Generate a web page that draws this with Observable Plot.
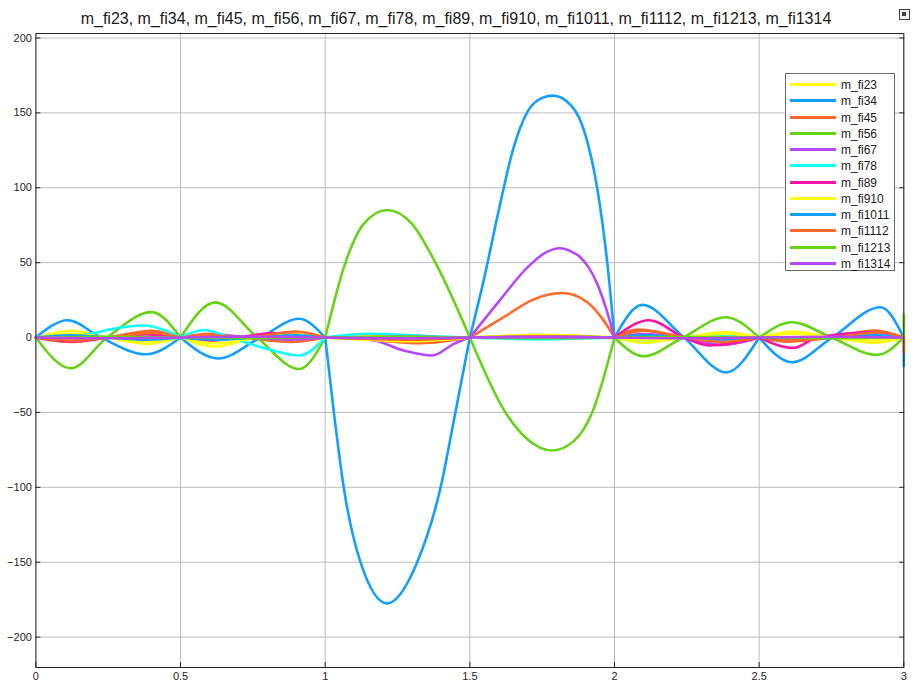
<!DOCTYPE html>
<html>
<head>
<meta charset="utf-8">
<script src="https://cdn.jsdelivr.net/npm/d3@7"></script>
<script src="https://cdn.jsdelivr.net/npm/@observablehq/plot@0.6"></script>
<style>
  html, body { margin: 0; padding: 0; background: #fff; }
  #wrap { position: relative; width: 912px; height: 685px; overflow: hidden; font-family: "Liberation Sans", Arial, sans-serif; }
  #title { position: absolute; left: 0; top: 9px; width: 912px; text-align: center; font-size: 16px; line-height: 20px; color: #1a1a1a; }
  #chart { position: absolute; left: 0; top: 30px; }
  #legend { position: absolute; left: 785px; top: 73px; width: 110px; height: 198px; box-sizing: border-box; border: 1px solid #6a6a6a; background: #fff; }
  .item { position: absolute; left: 0; height: 14px; width: 108px; }
  .sw { position: absolute; left: 4px; top: 5px; width: 46px; height: 3px; }
  .lb { position: absolute; left: 55px; top: -1px; font-size: 12px; line-height: 16px; color: #1a1a1a; }
  #icon { position: absolute; left: 899px; top: 9px; width: 9px; height: 9px; border: 1px solid #444; background: #eee; }
  #icon::after { content: ""; position: absolute; left: 2px; top: 2px; width: 4px; height: 4px; background: #444; }
</style>
</head>
<body>
<div id="wrap">
  <div id="title"></div>
  <div id="icon"></div>
  <div id="chart"></div>
  <div id="legend"></div>
</div>
<script>
const titleText = "m_fi23, m_fi34, m_fi45, m_fi56, m_fi67, m_fi78, m_fi89, m_fi910, m_fi1011, m_fi1112, m_fi1213, m_fi1314";
const seriesNames = ["m_fi23","m_fi34","m_fi45","m_fi56","m_fi67","m_fi78","m_fi89","m_fi910","m_fi1011","m_fi1112","m_fi1213","m_fi1314"];
const seriesColors = ["#FFFF11","#139FFF","#FF6929","#64D413","#B746FF","#0FFFFF","#FF13A6","#FFFF11","#139FFF","#FF6929","#64D413","#B746FF"];
const xTicks = [0, 0.5, 1, 1.5, 2, 2.5, 3];
const xTickLabels = ["0","0.5","1","1.5","2","2.5","3"];
const yTicks = [-200, -150, -100, -50, 0, 50, 100, 150, 200];

// [time, value] readings
const fi23 = [[0,0],[0.12,4.5],[0.25,0],[0.38,-4.2],[0.5,0],[0.62,-6],[0.76,0],[0.9,3.5],[1,0],[1.15,0.8],[1.5,0],[1.75,0.6],[2,0],[2.1,-3.5],[2.24,0],[2.38,3.5],[2.5,0],[2.62,4],[2.75,0],[2.9,-3.5],[3,0]];
const fi34 = [[0,0],[0.11,11.5],[0.225,0],[0.38,-11.2],[0.5,0],[0.63,-14],[0.776,0],[0.91,12.5],[1,0],[1.03,-50],[1.064,-100],[1.122,-150],[1.214,-177.5],[1.318,-150],[1.399,-100],[1.45,-50],[1.5,0],[1.55,40],[1.6,85],[1.65,126],[1.7,151],[1.75,160],[1.787,161.5],[1.85,155],[1.9,135],[1.94,100],[1.975,50],[2,0],[2.096,21.8],[2.24,0],[2.386,-23.3],[2.5,0],[2.614,-16.5],[2.752,0],[2.92,20.2],[3,0]];
const fi45 = [[0,0],[0.12,-3],[0.25,0],[0.4,4.5],[0.5,0],[0.6,2.5],[0.72,0],[0.88,-3],[1,0],[1.12,-1],[1.33,-3.8],[1.5,0],[1.617,13.6],[1.721,25.5],[1.819,29.7],[1.906,23.6],[1.963,11.3],[2,0],[2.08,5.3],[2.24,0],[2.37,-4.9],[2.5,0],[2.6,-2.7],[2.75,0],[2.9,4.7],[3,0]];
const fi56 = [[0,0],[0.12,-20.5],[0.246,0],[0.40,17],[0.5,0],[0.62,23.5],[0.765,0],[0.91,-21],[1,0],[1.07,50],[1.133,75.9],[1.214,85.2],[1.30,75.9],[1.381,50],[1.5,0],[1.623,-50],[1.7,-68],[1.785,-75.4],[1.86,-69],[1.923,-50],[2,0],[2.10,-12.5],[2.237,0],[2.384,13.6],[2.5,0],[2.614,10.2],[2.75,0],[2.908,-11.6],[3,0]];
const fi67 = [[0,0],[0.12,1],[0.25,0],[0.38,-1.5],[0.5,0],[0.62,1.5],[0.75,0],[0.88,-1.5],[1,0],[1.168,-2],[1.272,-8.7],[1.37,-12],[1.445,-4.2],[1.5,0],[1.6,24],[1.7,47],[1.76,56.5],[1.811,59.6],[1.85,57.5],[1.88,54],[1.91,47],[1.94,36],[1.97,20],[2,0],[2.1,2.4],[2.24,0],[2.37,-4.9],[2.5,0],[2.6,-1.5],[2.75,0],[2.88,2],[3,0]];
const fi78 = [[0,0],[0.1,0.8],[0.2,3],[0.258,5.5],[0.373,8],[0.45,4.5],[0.5,0],[0.58,5],[0.67,0],[0.8,-7.6],[0.91,-12],[1,0],[1.15,2.5],[1.35,1],[1.5,0],[1.75,-1.2],[2,0],[2.1,-2],[2.24,0],[2.36,1.5],[2.5,0],[2.62,-1],[2.75,0],[2.85,2.5],[3,0]];
const fi89 = [[0,0],[0.12,-2.5],[0.25,0],[0.38,2],[0.5,0],[0.6,-2],[0.7,0],[0.82,3],[1,0],[1.25,0.5],[1.5,0],[1.75,0.3],[2,0],[2.12,11.5],[2.24,0],[2.33,-5.3],[2.5,0],[2.62,-6.9],[2.7,0],[2.9,3.5],[3,0]];
const fi910 = [[0,0],[0.12,2.5],[0.25,0],[0.38,-2.5],[0.5,0],[0.62,-4],[0.76,0],[0.9,2],[1,0],[1.3,-2.5],[1.5,0],[1.75,1.8],[2,0],[2.1,-2],[2.24,0],[2.38,2.5],[2.5,0],[2.62,2.5],[2.75,0],[2.9,-2],[3,0]];
const fi1011 = [[0,0],[0.12,1.5],[0.25,0],[0.38,-1.5],[0.5,0],[0.62,-1.5],[0.76,0],[0.9,1.5],[1,0],[1.25,-0.8],[1.5,0],[1.75,0.8],[2,0],[2.1,1.5],[2.24,0],[2.38,-1.5],[2.5,0],[2.62,-1.2],[2.75,0],[2.9,1.5],[3,0]];
const fi1112 = [[0,0],[0.12,-2],[0.25,0],[0.4,3],[0.5,0],[0.6,1.5],[0.72,0],[0.9,4],[1,0],[1.3,-1.5],[1.5,0],[1.75,0.8],[2,0],[2.1,4.5],[2.24,0],[2.37,-3],[2.5,0],[2.6,-2],[2.75,0],[2.92,3.5],[3,0]];
const fi1213 = [[0,0],[0.25,0.5],[0.5,0],[0.75,-0.4],[1,0],[1.25,0.5],[1.5,0],[1.75,-0.5],[2,0],[2.25,0.4],[2.5,0],[2.75,-0.4],[3,0]];
const fi1314 = [[0,0],[0.25,-0.5],[0.5,0],[0.75,0.5],[1,0],[1.25,-0.5],[1.5,0],[1.75,0.3],[2,0],[2.25,-0.5],[2.5,0],[2.75,0.5],[3,0]];
const seriesPoints = [fi23, fi34, fi45, fi56, fi67, fi78, fi89, fi910, fi1011, fi1112, fi1213, fi1314];
// final-sample values at t = 3
const endValues = [0, -19.8, -10.9, 15.8, 0, 0, 0, 0, 0, 0, 0, 0];

document.getElementById("title").textContent = titleText;

// split each series into segments between zero nodes (0, 0.5, ..., 3)
function segmentRows(pts, i) {
  const rows = [];
  for (const [x, y] of pts) {
    const k = x / 0.5;
    const isNode = Math.abs(k - Math.round(k)) < 1e-9;
    if (isNode) {
      const r = Math.round(k);
      if (r > 0) rows.push({x, y, key: i + "-" + (r - 1)});
      if (r < 6) rows.push({x, y, key: i + "-" + r});
    } else {
      rows.push({x, y, key: i + "-" + Math.floor(k)});
    }
  }
  return rows;
}

const lineMarks = seriesPoints.map((pts, i) =>
  Plot.line(segmentRows(pts, i), {x: "x", y: "y", z: "key", stroke: seriesColors[i], strokeWidth: 2.6, curve: "monotone-x"})
);
const jumpRows = endValues.map((v, i) => ({x: 3, y1: 0, y2: v, c: seriesColors[i]})).filter(d => d.y2 !== 0);

const chart = Plot.plot({
  width: 912,
  height: 655,
  marginTop: 3,
  marginBottom: 18,
  marginLeft: 35.4,
  marginRight: 8.7,
  x: {domain: [0, 3], label: null},
  y: {domain: [-220.3, 203], label: null},
  style: {fontFamily: "'Liberation Sans', Arial, sans-serif", fontSize: "11px", color: "#262626", background: "#fff", overflow: "visible"},
  marks: [
    Plot.gridX(xTicks, {stroke: "#bdbdbd", strokeOpacity: 1}),
    Plot.gridY(yTicks, {stroke: "#bdbdbd", strokeOpacity: 1}),
    Plot.axisX(xTicks, {tickSize: 0, tickPadding: 5, tickFormat: (d, i) => xTickLabels[i], fontSize: 11, label: null}),
    Plot.axisY(yTicks, {tickSize: 0, tickPadding: 4, fontSize: 11, label: null}),
    Plot.axisX(xTicks, {tickSize: -5, text: null, stroke: "#262626", label: null}),
    Plot.axisY(yTicks, {tickSize: -5, text: null, stroke: "#262626", label: null}),
    Plot.axisY(yTicks, {anchor: "right", tickSize: -5, text: null, stroke: "#262626", label: null}),
    ...lineMarks,
    Plot.ruleX(jumpRows, {x: "x", y1: "y1", y2: "y2", stroke: d => d.c, strokeWidth: 2.6}),
    Plot.frame({stroke: "#262626", strokeWidth: 1})
  ]
});
document.getElementById("chart").appendChild(chart);

const legend = document.getElementById("legend");
seriesNames.forEach((name, i) => {
  const item = document.createElement("div");
  item.className = "item";
  item.style.top = (4 + i * 16.25) + "px";
  const sw = document.createElement("div");
  sw.className = "sw";
  sw.style.background = seriesColors[i];
  const lb = document.createElement("div");
  lb.className = "lb";
  lb.textContent = name;
  item.appendChild(sw);
  item.appendChild(lb);
  legend.appendChild(item);
});
</script>
</body>
</html>
